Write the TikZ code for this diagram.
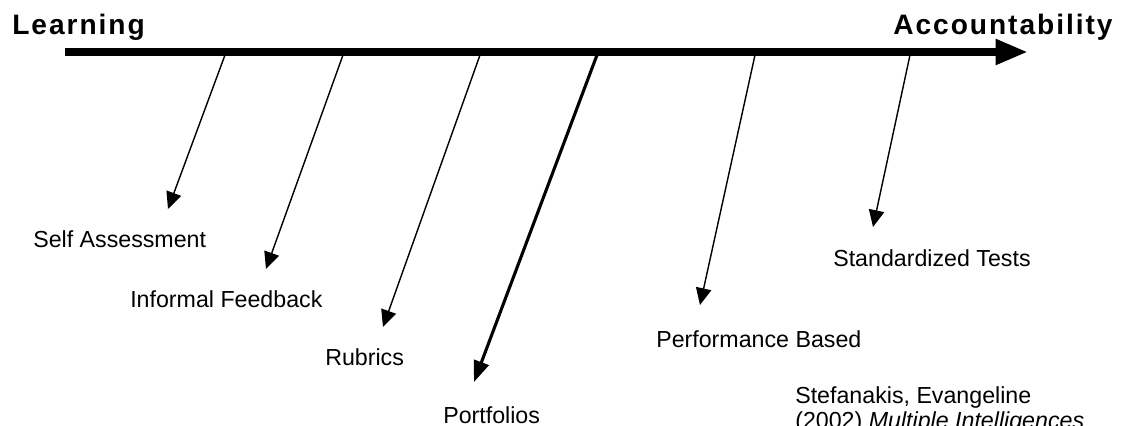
\documentclass[tikz,border=0pt]{standalone}
\usepackage{fontspec}
\setmainfont{Liberation Sans}
\newfontfamily\headfont[LetterSpace=7]{Liberation Sans}
\usetikzlibrary{arrows.meta}

\begin{document}
\begin{tikzpicture}[x=0.025cm,y=-0.025cm,>={Triangle[length=12pt,width=11pt]}]
\tikzstyle{lbl}=[anchor=base west,inner sep=0pt,font=\fontsize{16.5}{20}\selectfont]
\tikzstyle{head}=[anchor=base west,inner sep=0pt,font=\headfont\bfseries\fontsize{20}{24}\selectfont]
\tikzstyle{tie}=[->,line width=1pt]
\clip (0,0) rectangle (1123,426);
\node[head] (learn) at (12,35) {Learning}; \node[head] (acc) at (893,35) {Accountability};
\coordinate (l0) at (65,52); \coordinate (l1) at (1028,52);
\draw[line width=5.7pt,-{Triangle[length=23pt,width=17pt]}] (l0) -- (l1);
% branches off the axis
\coordinate (a1) at (225,55); \coordinate (t1) at (168,209); \draw[tie] (a1) -- (t1);
\coordinate (a2) at (343,55); \coordinate (t2) at (266,269); \draw[tie] (a2) -- (t2);
\coordinate (a3) at (480,55); \coordinate (t3) at (383,327); \draw[tie] (a3) -- (t3);
\coordinate (a4) at (597,55); \coordinate (t4) at (474,382); \draw[->,line width=2.2pt,>={Triangle[length=15pt,width=11pt]}] (a4) -- (t4);
\coordinate (a5) at (755,55); \coordinate (t5) at (700,305); \draw[tie] (a5) -- (t5);
\coordinate (a6) at (910,55); \coordinate (t6) at (873,227); \draw[tie] (a6) -- (t6);
\node[lbl] (self) at (33,247) {Self Assessment};
\node[lbl] (info) at (130,307) {Informal Feedback};
\node[lbl] (rub) at (325,365) {Rubrics};
\node[lbl] (port) at (443,423) {Portfolios};
\node[lbl] (perf) at (656,347) {Performance Based};
\node[lbl] (std) at (833,266) {Standardized Tests};
\node[lbl] (ref1) at (795,403) {Stefanakis, Evangeline};
\node[lbl] (ref2) at (795,428) {(2002) \textit{Multiple Intelligences}};
\end{tikzpicture}
\end{document}
